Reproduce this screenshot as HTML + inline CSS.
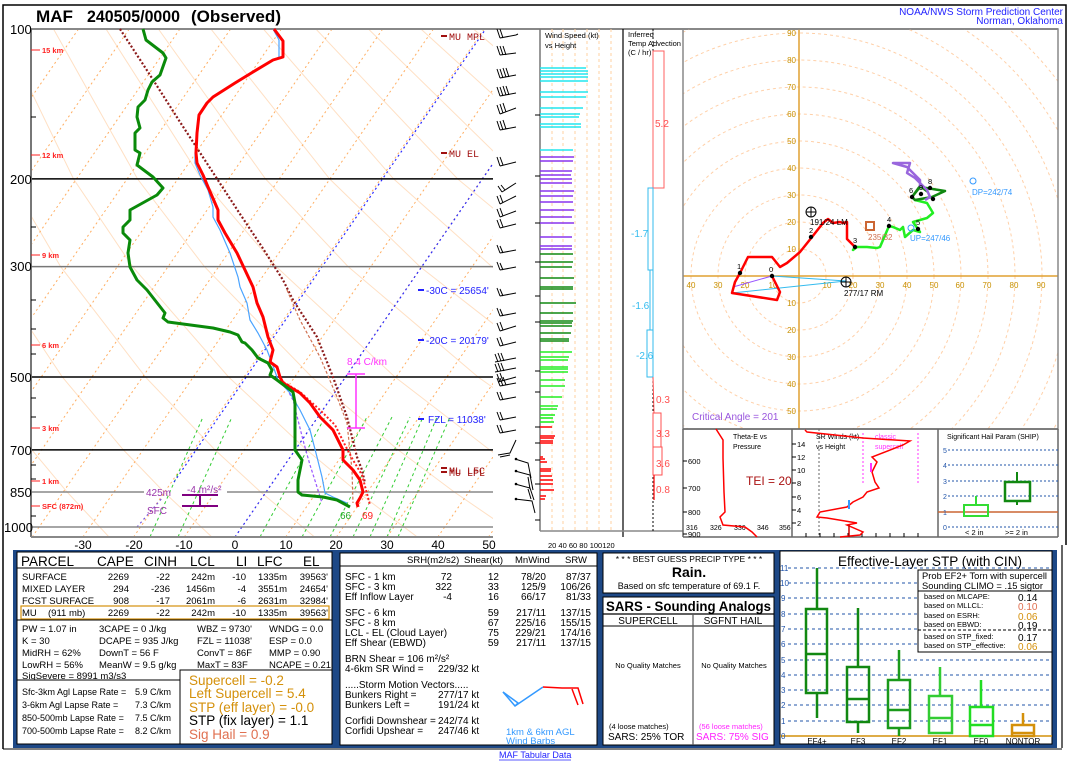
<!DOCTYPE html>
<html><head><meta charset="utf-8"><style>
html,body{margin:0;padding:0;background:#fff;}
svg{display:block;}
text{font-family:"Liberation Sans",sans-serif;}
.mono{font-family:"Liberation Mono",monospace;}
</style></head><body>
<svg width="1073" height="764" viewBox="0 0 1073 764" xmlns="http://www.w3.org/2000/svg">
<defs>
<clipPath id="skc"><rect x="31" y="29" width="462" height="508"/></clipPath>
<clipPath id="hoc"><rect x="683" y="29" width="375" height="400"/></clipPath>
</defs>
<rect width="1073" height="764" fill="#fff"/>
<!-- outer frame -->
<polyline points="3,749 3,5 1066,5 1066,545" fill="none" stroke="#000" stroke-width="1.5"/>
<!-- title -->
<text x="36" y="22" font-size="17" font-weight="bold" textLength="37" lengthAdjust="spacingAndGlyphs">MAF</text>
<text x="87" y="22" font-size="17" font-weight="bold" textLength="93" lengthAdjust="spacingAndGlyphs">240505/0000</text>
<text x="191" y="22" font-size="17" font-weight="bold" textLength="90" lengthAdjust="spacingAndGlyphs">(Observed)</text>
<text x="1063" y="15" font-size="10" fill="#2323ff" text-anchor="end">NOAA/NWS Storm Prediction Center</text>
<text x="1063" y="24" font-size="10" fill="#2323ff" text-anchor="end">Norman, Oklahoma</text>

<!-- ===== SKEW-T ===== -->
<g id="bg" clip-path="url(#skc)"></g>
<g clip-path="url(#skc)" stroke="#33cc33" stroke-width="1" stroke-dasharray="3,3" fill="none">
<line x1="150" y1="537" x2="203" y2="417"/>
<line x1="178" y1="537" x2="232" y2="417"/>
<line x1="260" y1="537" x2="325" y2="417"/>
<line x1="302" y1="537" x2="367" y2="417"/>
<line x1="330" y1="537" x2="392" y2="417"/>
<line x1="353" y1="537" x2="410" y2="417"/>
<line x1="370" y1="537" x2="423" y2="417"/>
<line x1="387" y1="537" x2="437" y2="417"/>
<line x1="398" y1="537" x2="450" y2="417"/>
</g>
<!-- blue isotherms -->
<g clip-path="url(#skc)" stroke="#2a2aff" stroke-width="1.2" stroke-dasharray="2,3" fill="none">
<line x1="174" y1="482" x2="485" y2="30"/>
<line x1="235" y1="537" x2="586" y2="29"/>
<line x1="137" y1="527" x2="163" y2="497" stroke="#7a55dd"/>
</g>
<!-- pressure lines -->
<g stroke-width="1.5">
<line x1="31" y1="178.9" x2="493" y2="178.9" stroke="#000"/>
<line x1="31" y1="266.6" x2="493" y2="266.6" stroke="#777"/>
<line x1="31" y1="377" x2="493" y2="377" stroke="#000"/>
<line x1="31" y1="449.9" x2="493" y2="449.9" stroke="#000"/>
<line x1="31" y1="492" x2="144" y2="492" stroke="#888"/>
<line x1="227" y1="492" x2="493" y2="492" stroke="#888"/>
<line x1="31" y1="527" x2="493" y2="527" stroke="#888"/>
</g>
<line x1="31" y1="29" x2="1058" y2="29" stroke="#888" stroke-width="2"/>
<line x1="31" y1="29" x2="31" y2="537" stroke="#777" stroke-width="2"/>
<line x1="31" y1="537" x2="493" y2="537" stroke="#888" stroke-width="2"/>
<!-- pressure labels -->
<g font-size="13" fill="#000">
<text x="10" y="34">100</text>
<text x="10" y="184">200</text>
<text x="10" y="271">300</text>
<text x="10" y="382">500</text>
<text x="10" y="455">700</text>
<text x="10" y="497">850</text>
<text x="4" y="532">1000</text>
</g>
<g stroke="#000" stroke-width="1">
<line x1="31" y1="117" x2="36" y2="117"/><line x1="31" y1="227" x2="36" y2="227"/>
<line x1="31" y1="300" x2="36" y2="300"/><line x1="31" y1="329" x2="36" y2="329"/>
<line x1="31" y1="354" x2="36" y2="354"/><line x1="31" y1="398" x2="36" y2="398"/>
<line x1="31" y1="417" x2="36" y2="417"/><line x1="31" y1="465" x2="36" y2="465"/>
<line x1="31" y1="479" x2="36" y2="479"/><line x1="31" y1="516" x2="36" y2="516"/>
</g>
<!-- height labels -->
<g fill="#ff2020" font-size="7.5" font-weight="bold">
<text x="42" y="53">15 km</text><text x="42" y="158">12 km</text><text x="42" y="258">9 km</text>
<text x="42" y="348">6 km</text><text x="42" y="431">3 km</text><text x="42" y="484">1 km</text>
<text x="42" y="509">SFC (872m)</text>
</g>
<g stroke="#ff2020" stroke-width="1">
<line x1="31" y1="50" x2="40" y2="50"/><line x1="31" y1="155" x2="40" y2="155"/><line x1="31" y1="255" x2="40" y2="255"/>
<line x1="31" y1="345" x2="40" y2="345"/><line x1="31" y1="428" x2="40" y2="428"/><line x1="31" y1="481" x2="40" y2="481"/>
<line x1="31" y1="506" x2="40" y2="506"/>
</g>
<!-- temp labels -->
<g font-size="12" text-anchor="middle">
<text x="83" y="549">-30</text><text x="134" y="549">-20</text><text x="184" y="549">-10</text>
<text x="235" y="549">0</text><text x="286" y="549">10</text><text x="336" y="549">20</text>
<text x="387" y="549">30</text><text x="438" y="549">40</text><text x="489" y="549">50</text>
</g>
<!-- parcel traces -->
<polyline points="120,29 150,75 180,122 210,168 240,214 262,247 283,280 293,300 317,337 333,377 347,417 357,457 362,470 365,483" fill="none" stroke="#8b1a1a" stroke-width="2.2" stroke-dasharray="2,2"/>
<polyline points="287,290 300,320 320,357 337,397 347,423 352,470 353,503" fill="none" stroke="#d07050" stroke-width="1.2" stroke-dasharray="3,2"/>
<polyline points="280,380 300,392 320,410 335,425 345,445 353,460 362,475 366,490 370,505" fill="none" stroke="#ff2020" stroke-width="2" stroke-dasharray="2,2"/>
<polyline points="282,380 293,400 303,440 310,465 318,490 322,503" fill="none" stroke="#9955ff" stroke-width="1.2" stroke-dasharray="3,2"/>
<!-- light blue -->
<polyline points="273,29 279,40 279,57 273,60 253,72 235,83 213,97 207,103 199,115 197,133 195,153 195,163 200,175 208,190 213,207 213,217 220,230 230,253 238,277 240,287 247,303 250,320 258,333 267,350 272,363 278,380 290,393 300,410 310,430 317,457 322,477 325,493 333,497 347,503" fill="none" stroke="#4aa3ff" stroke-width="1.2"/>
<!-- temperature -->
<polyline points="274,29 283,41 283,57 273,60 253,72 235,83 213,97 207,103 199,115 197,133 196,153 197,163 203,175 208,187 218,210 218,220 225,233 237,253 245,270 253,287 257,303 263,317 268,337 273,350 270,362 277,367 280,377 283,383 300,393 310,403 320,417 333,430 343,450 343,460 353,470 360,480 363,492 360,498 357,503 358,507" fill="none" stroke="#ff0000" stroke-width="3" stroke-linejoin="round"/>
<!-- dewpoint -->
<polyline points="143,29 146,40 163,53 166,58 160,75 152,82 148,90 145,100 138,107 137,117 140,128 135,133 135,150 140,153 137,165 153,177 163,188 157,195 130,210 130,220 123,227 123,233 130,240 128,253 130,267 137,280 147,290 165,313 163,318 168,322 213,328 230,332 238,335 242,342 245,343 252,350 258,358 268,363 272,370 270,375 277,380 293,392 295,403 295,450 302,460 298,480 298,492 302,495 323,497 337,500 350,507" fill="none" stroke="#0a8a0a" stroke-width="3" stroke-linejoin="round"/>
<!-- annotations -->
<g fill="#a01010" font-size="10">
<text x="449" y="40" class="mono">MU MPL</text>
<text x="449" y="157" class="mono">MU EL</text>
<text x="449" y="474" class="mono">ML LFC</text>
<text x="449" y="476" class="mono">MU LPL</text>
</g>
<g stroke="#a01010" stroke-width="2">
<line x1="441" y1="36" x2="447" y2="36"/><line x1="441" y1="153" x2="447" y2="153"/>
<line x1="441" y1="468" x2="447" y2="468"/><line x1="441" y1="472" x2="447" y2="472"/>
</g>
<g fill="#2323ff" font-size="10">
<text x="426" y="294">-30C = 25654'</text>
<text x="426" y="344">-20C = 20179'</text>
<text x="428" y="423">FZL = 11038'</text>
</g>
<g stroke="#2323ff" stroke-width="2">
<line x1="418" y1="290" x2="424" y2="290"/><line x1="418" y1="340" x2="424" y2="340"/><line x1="418" y1="419" x2="424" y2="419"/>
</g>
<text x="347" y="365" font-size="10" fill="#ff33ff">8.4 C/km</text>
<g stroke="#ff33ff" stroke-width="1.5" fill="none">
<line x1="347" y1="374" x2="365" y2="374"/><line x1="356" y1="374" x2="356" y2="428"/><line x1="347" y1="428" x2="365" y2="428"/>
</g>
<text x="146" y="496" font-size="10" fill="#9933aa">425m</text>
<text x="187" y="493" font-size="10" fill="#9933aa">-4 m²/s²</text>
<text x="147" y="514" font-size="10" fill="#9933aa">SFC</text>
<g stroke="#800080" stroke-width="2">
<line x1="182" y1="495" x2="218" y2="495"/><line x1="182" y1="506" x2="218" y2="506"/><line x1="200" y1="495" x2="200" y2="506"/>
</g>
<text x="340" y="519" font-size="10" fill="#22aa22">66</text>
<text x="362" y="519" font-size="10" fill="#ff2020">69</text>

<!-- wind barbs -->
<g stroke="#000" stroke-width="1" fill="none">
<path d="M516,35 L500,38 M500,38 l-3,-9 M503,38 l-3,-9 M516,35 l2,-1"/>
<path d="M516,53 L500,55 M500,55 l-3,-9 M503,55 l-3,-9 M506,55 l-3,-9"/>
<path d="M516,75 L500,78 M500,78 l-3,-9 M503,78 l-3,-9 M506,77 l-3,-9 M509,77 l-3,-9"/>
<path d="M516,93 L500,96 M500,96 l-3,-9 M503,96 l-3,-9 M506,95 l-3,-9 M509,95 l-3,-9"/>
<path d="M516,108 L500,114 M500,114 l-3,-9 M503,113 l-3,-9 M506,112 l-3,-9"/>
<path d="M516,127 L500,130 M500,130 l-3,-9 M503,130 l-3,-9 M506,129 l-3,-9"/>
<path d="M516,162 L500,166 M500,166 l-3,-9 M503,165 l-3,-8"/>
<path d="M516,183 L502,192 M502,192 l-4,-6 M505,190 l-4,-5"/>
<path d="M516,196 L500,204 M500,204 l-3,-8 M503,203 l-3,-8"/>
<path d="M516,211 L500,217 M500,217 l-3,-8 M503,216 l-3,-8"/>
<path d="M516,224 L500,228 M500,228 l-3,-8 M503,227 l-3,-8"/>
<path d="M516,250 L500,253 M500,253 l-3,-8 M503,253 l-3,-7"/>
<path d="M516,267 L500,270 M500,270 l-3,-8 M503,270 l-3,-7"/>
<path d="M516,293 L500,296 M500,296 l-3,-8 M503,296 l-3,-7"/>
<path d="M516,313 L500,316 M500,316 l-3,-8 M503,316 l-3,-7"/>
<path d="M516,326 L500,331 M500,331 l-3,-8 M503,330 l-3,-8"/>
<path d="M516,342 L500,346 M500,346 l-3,-8 M503,345 l-3,-8"/>
<path d="M516,358 L495,362 M498,362 l-3,-8 M501,361 l-3,-8 M504,361 l-3,-8"/>
<path d="M516,368 L495,372 M498,372 l-3,-8 M501,371 l-3,-8 M504,371 l-3,-8"/>
<path d="M516,377 L498,382 M500,382 l-3,-8 M503,381 l-3,-8"/>
<path d="M516,383 L500,386 M500,386 l-3,-8 M503,386 l-3,-8 M506,385 l-3,-8"/>
<path d="M516,397 L500,400 M500,400 l-3,-8 M503,400 l-3,-8"/>
<path d="M516,417 L500,420 M500,420 l-3,-8 M503,420 l-3,-8"/>
<path d="M516,430 L500,433 M500,433 l-3,-8 M503,433 l-3,-8"/>
<path d="M498,455 L510,453 L516,440 M500,457 L510,455"/>
<path d="M515,459 L528,463 L531,478"/>
<path d="M515,471 L530,475 L533,490 M528,477 l2,12"/>
<path d="M515,484 L530,488 L534,500 M528,489 l3,10"/>
<path d="M515,499 L532,501 L535,513"/>
</g>
<g fill="#000"><circle cx="516" cy="459" r="1.3"/><circle cx="516" cy="471" r="1.3"/><circle cx="516" cy="484" r="1.3"/><circle cx="516" cy="499" r="1.3"/></g>

<!-- ===== WIND SPEED PANEL ===== -->
<g stroke="#ffd0a0" stroke-width="1" stroke-dasharray="3,3">
<line x1="552" y1="29" x2="552" y2="531"/><line x1="563" y1="29" x2="563" y2="531"/><line x1="575" y1="29" x2="575" y2="531"/>
<line x1="587" y1="29" x2="587" y2="531"/><line x1="599" y1="29" x2="599" y2="531"/><line x1="611" y1="29" x2="611" y2="531"/>
</g>
<line x1="540" y1="29" x2="540" y2="531" stroke="#777" stroke-width="1.5"/>
<line x1="623" y1="29" x2="623" y2="537" stroke="#000" stroke-width="1.2"/>
<line x1="540" y1="531" x2="683" y2="531" stroke="#888" stroke-width="1.5"/>
<g stroke="#000" stroke-width="1">
<line x1="535" y1="115" x2="540" y2="115"/><line x1="535" y1="176" x2="540" y2="176"/><line x1="535" y1="223" x2="540" y2="223"/>
<line x1="535" y1="262" x2="540" y2="262"/><line x1="535" y1="296" x2="540" y2="296"/><line x1="535" y1="322" x2="540" y2="322"/>
<line x1="535" y1="371" x2="540" y2="371"/><line x1="535" y1="392" x2="540" y2="392"/><line x1="535" y1="427" x2="540" y2="427"/>
<line x1="535" y1="443" x2="540" y2="443"/><line x1="535" y1="460" x2="540" y2="460"/><line x1="535" y1="484" x2="540" y2="484"/>
<line x1="535" y1="520" x2="540" y2="520"/>
</g>
<text x="545" y="38" font-size="7.5">Wind Speed (kt)</text>
<text x="545" y="48" font-size="7.5">vs Height</text>
<text x="548" y="548" font-size="7.5">20 40 60 80 100120</text>
<g stroke-width="1.6">
<g stroke="#22e5ee">
<line x1="540" y1="68" x2="586" y2="68"/><line x1="540" y1="71" x2="588" y2="71"/><line x1="540" y1="74" x2="588" y2="74"/>
<line x1="540" y1="77" x2="588" y2="77"/><line x1="540" y1="81" x2="588" y2="81"/><line x1="540" y1="92" x2="588" y2="92"/>
<line x1="540" y1="97" x2="586" y2="97"/><line x1="540" y1="108" x2="583" y2="108"/><line x1="540" y1="114" x2="580" y2="114"/>
<line x1="540" y1="117" x2="579" y2="117"/><line x1="540" y1="124" x2="581" y2="124"/><line x1="540" y1="127" x2="581" y2="127"/>
<line x1="540" y1="150" x2="573" y2="150"/>
</g>
<g stroke="#8833ee">
<line x1="540" y1="157" x2="574" y2="157"/><line x1="540" y1="161" x2="573" y2="161"/><line x1="540" y1="171" x2="572" y2="171"/>
<line x1="540" y1="175" x2="571" y2="175"/><line x1="540" y1="179" x2="572" y2="179"/><line x1="540" y1="183" x2="572" y2="183"/>
<line x1="540" y1="191" x2="574" y2="191"/><line x1="540" y1="196" x2="573" y2="196"/><line x1="540" y1="202" x2="573" y2="202"/>
<line x1="540" y1="210" x2="574" y2="210"/><line x1="540" y1="217" x2="572" y2="217"/><line x1="540" y1="223" x2="574" y2="223"/>
<line x1="540" y1="237" x2="572" y2="237"/><line x1="540" y1="246" x2="572" y2="246"/><line x1="540" y1="249" x2="572" y2="249"/>
</g>
<g stroke="#118811">
<line x1="540" y1="254" x2="573" y2="254"/><line x1="540" y1="262" x2="573" y2="262"/><line x1="540" y1="267" x2="572" y2="267"/>
<line x1="540" y1="278" x2="574" y2="278"/><line x1="540" y1="287" x2="573" y2="287"/><line x1="540" y1="289" x2="573" y2="289"/>
<line x1="540" y1="303" x2="576" y2="303"/><line x1="540" y1="313" x2="573" y2="313"/><line x1="540" y1="321" x2="573" y2="321"/>
<line x1="540" y1="323" x2="572" y2="323"/><line x1="540" y1="326" x2="572" y2="326"/><line x1="540" y1="333" x2="571" y2="333"/>
<line x1="540" y1="339" x2="569" y2="339"/><line x1="540" y1="341" x2="569" y2="341"/>
</g>
<g stroke="#22ee22">
<line x1="540" y1="352" x2="572" y2="352"/><line x1="540" y1="357" x2="569" y2="357"/><line x1="540" y1="360" x2="568" y2="360"/>
<line x1="540" y1="367" x2="568" y2="367"/><line x1="540" y1="369" x2="568" y2="369"/><line x1="540" y1="372" x2="568" y2="372"/>
<line x1="540" y1="380" x2="565" y2="380"/><line x1="540" y1="386" x2="565" y2="386"/><line x1="540" y1="397" x2="562" y2="397"/>
<line x1="540" y1="406" x2="558" y2="406"/><line x1="540" y1="409" x2="557" y2="409"/><line x1="540" y1="415" x2="555" y2="415"/>
<line x1="540" y1="418" x2="553" y2="418"/><line x1="540" y1="422" x2="554" y2="422"/>
</g>
<g stroke="#ff1010">
<line x1="540" y1="427" x2="552" y2="427"/><line x1="540" y1="436" x2="555" y2="436"/><line x1="540" y1="438" x2="554" y2="438"/>
<line x1="540" y1="441" x2="553" y2="441"/><line x1="540" y1="443" x2="553" y2="443"/><line x1="540" y1="457" x2="543" y2="457"/>
<line x1="540" y1="459" x2="545" y2="459"/><line x1="540" y1="462" x2="547" y2="462"/><line x1="540" y1="469" x2="551" y2="469"/>
<line x1="540" y1="471" x2="551" y2="471"/><line x1="540" y1="476" x2="552" y2="476"/><line x1="540" y1="480" x2="553" y2="480"/>
<line x1="540" y1="484" x2="553" y2="484"/><line x1="540" y1="490" x2="554" y2="490"/><line x1="540" y1="496" x2="546" y2="496"/>
<line x1="540" y1="499" x2="545" y2="499"/>
</g>
</g>

<!-- ===== TEMP ADVECTION ===== -->
<text x="628" y="37" font-size="7.5">Inferred</text>
<text x="628" y="46" font-size="7.5">Temp Advection</text>
<text x="628" y="55" font-size="7.5">(C / hr)</text>
<line x1="653" y1="29" x2="653" y2="531" stroke="#000" stroke-width="1" stroke-dasharray="2,2"/>
<rect x="653" y="51" width="11" height="137" fill="#fff" stroke="#ff6060" stroke-width="1"/>
<text x="655" y="127" font-size="10" fill="#ff5050">5.2</text>
<rect x="648" y="188" width="5" height="82" fill="#fff" stroke="#33bbee" stroke-width="1"/>
<text x="631" y="237" font-size="10" fill="#33bbee">-1.7</text>
<rect x="650" y="270" width="3" height="60" fill="#fff" stroke="#33bbee" stroke-width="1"/>
<text x="632" y="309" font-size="10" fill="#33bbee">-1.6</text>
<rect x="647" y="330" width="6" height="47" fill="#fff" stroke="#33bbee" stroke-width="1"/>
<text x="636" y="359" font-size="10" fill="#33bbee">-2.6</text>
<line x1="653" y1="377" x2="654" y2="413" stroke="#ff5050"/>
<text x="656" y="403" font-size="10" fill="#ff5050">0.3</text>
<rect x="653" y="413" width="8" height="34" fill="#fff" stroke="#ff5050" stroke-width="1"/>
<text x="656" y="437" font-size="10" fill="#ff5050">3.3</text>
<rect x="653" y="447" width="9" height="28" fill="#fff" stroke="#ff5050" stroke-width="1"/>
<text x="656" y="467" font-size="10" fill="#ff5050">3.6</text>
<line x1="654" y1="475" x2="654" y2="500" stroke="#ff3030" stroke-width="1.5"/>
<text x="656" y="493" font-size="10" fill="#ff5050">0.8</text>

<!-- ===== HODOGRAPH ===== -->
<g clip-path="url(#hoc)" fill="none" stroke="#ffd0a8" stroke-width="1" stroke-dasharray="3,3">
<circle cx="799" cy="276" r="27"/><circle cx="799" cy="276" r="54"/><circle cx="799" cy="276" r="81"/>
<circle cx="799" cy="276" r="108"/><circle cx="799" cy="276" r="135"/><circle cx="799" cy="276" r="162"/>
<circle cx="799" cy="276" r="189"/><circle cx="799" cy="276" r="216"/><circle cx="799" cy="276" r="243"/>
<circle cx="799" cy="276" r="270"/><circle cx="799" cy="276" r="297"/><circle cx="799" cy="276" r="324"/>
</g>
<line x1="799" y1="29" x2="799" y2="429" stroke="#e0a030" stroke-width="1.5"/>
<line x1="683" y1="276" x2="1058" y2="276" stroke="#e0a030" stroke-width="1.5"/>
<g font-size="8" fill="#c89000" text-anchor="end">
<text x="796" y="36">90</text><text x="796" y="63">80</text><text x="796" y="90">70</text><text x="796" y="117">60</text>
<text x="796" y="144">50</text><text x="796" y="171">40</text><text x="796" y="198">30</text><text x="796" y="225">20</text>
<text x="796" y="252">10</text><text x="796" y="306">10</text><text x="796" y="333">20</text><text x="796" y="360">30</text>
<text x="796" y="387">40</text><text x="796" y="414">50</text>
</g>
<g font-size="8" fill="#c89000" text-anchor="middle">
<text x="691" y="288">40</text><text x="718" y="288">30</text><text x="745" y="288">20</text><text x="773" y="288">10</text>
<text x="827" y="288">10</text><text x="853" y="288">20</text><text x="880" y="288">30</text><text x="907" y="288">40</text>
<text x="934" y="288">50</text><text x="960" y="288">60</text><text x="987" y="288">70</text><text x="1014" y="288">80</text>
<text x="1041" y="288">90</text>
</g>
<rect x="683" y="29" width="375" height="400" fill="none" stroke="#888" stroke-width="1.5"/>
<polyline points="772,276 846,281 732,293" fill="none" stroke="#33bbee" stroke-width="1"/>
<line x1="772" y1="276" x2="733" y2="287" stroke="#9955ff" stroke-width="1"/>
<polyline points="772,276 780,292 777,300 732,293 735,282 740,273 743,267 748,257 772,257 780,267 787,263 800,252 812,237 823,223 828,219 833,223 840,222 843,223 847,222 847,239 855,247" fill="none" stroke="#ff0000" stroke-width="2.5" stroke-linejoin="round"/>
<polyline points="855,247 853,250 857,247 867,247 877,248 880,247 889,226 893,227 900,230 903,227 905,237 913,230 920,232 913,222 927,218 933,213 927,203 915,200 912,197" fill="none" stroke="#22ee22" stroke-width="2.5" stroke-linejoin="round"/>
<polyline points="912,197 920,187 945,191 932,197 915,200 912,197 920,186 928,192" fill="none" stroke="#118811" stroke-width="2.5" stroke-linejoin="round"/>
<polyline points="920,187 920,180 913,173 907,167 893,163 910,163 907,173 915,178 927,190 930,197 925,200" fill="none" stroke="#9966dd" stroke-width="2.5" stroke-linejoin="round"/>
<g fill="#000">
<circle cx="772" cy="276" r="2.2"/><circle cx="740" cy="273" r="2.2"/><circle cx="811" cy="237" r="2.2"/>
<circle cx="855" cy="247" r="2.2"/><circle cx="889" cy="226" r="2.2"/><circle cx="918" cy="229" r="2.2"/>
<circle cx="912" cy="197" r="2.2"/><circle cx="930" cy="188" r="2.2"/><circle cx="933" cy="199" r="2.2"/><circle cx="921" cy="194" r="2.2"/>
</g>
<g font-size="7.5" fill="#000">
<text x="769" y="272">0</text><text x="737" y="269">1</text><text x="809" y="233">2</text><text x="853" y="243">3</text>
<text x="887" y="222">4</text><text x="916" y="225">5</text><text x="909" y="193">6</text><text x="928" y="184">8</text><text x="919" y="190">9</text>
</g>
<g fill="none" stroke="#000" stroke-width="1">
<circle cx="811" cy="212" r="5"/><line x1="806" y1="212" x2="816" y2="212"/><line x1="811" y1="207" x2="811" y2="217"/>
<circle cx="846" cy="282" r="5"/><line x1="841" y1="282" x2="851" y2="282"/><line x1="846" y1="277" x2="846" y2="287"/>
</g>
<text x="810" y="225" font-size="8" fill="#000">191/24 LM</text>
<text x="844" y="296" font-size="8" fill="#000">277/17 RM</text>
<rect x="866" y="222" width="8" height="8" fill="none" stroke="#cc6633" stroke-width="2"/>
<text x="868" y="240" font-size="8" fill="#d07050">235/32</text>
<circle cx="973" cy="181" r="3" fill="none" stroke="#3399ff"/>
<text x="972" y="195" font-size="8" fill="#3399ff">DP=242/74</text>
<circle cx="911" cy="228" r="3" fill="none" stroke="#3399ff"/>
<text x="910" y="241" font-size="8" fill="#3399ff">UP=247/46</text>
<text x="692" y="420" font-size="10" fill="#9955dd">Critical Angle = 201</text>

<!-- ===== LOWER RIGHT PANELS ===== -->
<line x1="683" y1="429" x2="1058" y2="429" stroke="#666" stroke-width="1.5"/>
<line x1="683" y1="429" x2="683" y2="537" stroke="#666" stroke-width="1.5"/>
<line x1="792" y1="429" x2="792" y2="537" stroke="#666" stroke-width="1.5"/>
<line x1="938" y1="429" x2="938" y2="537" stroke="#666" stroke-width="1.5"/>
<line x1="1058" y1="429" x2="1058" y2="537" stroke="#666" stroke-width="1.5"/>
<line x1="683" y1="537" x2="1058" y2="537" stroke="#666" stroke-width="1.5"/>
<!-- theta-e -->
<text x="733" y="439" font-size="7">Theta-E vs</text>
<text x="733" y="449" font-size="7">Pressure</text>
<g font-size="7.5"><text x="688" y="464">600</text><text x="688" y="491">700</text><text x="688" y="515">800</text><text x="688" y="537">900</text></g>
<g stroke="#000"><line x1="683" y1="461" x2="687" y2="461"/><line x1="683" y1="488" x2="687" y2="488"/><line x1="683" y1="512" x2="687" y2="512"/><line x1="683" y1="534" x2="687" y2="534"/></g>
<g font-size="7" fill="#000"><text x="686" y="530">316</text><text x="710" y="530">326</text><text x="734" y="530">336</text><text x="757" y="530">346</text><text x="779" y="530">356</text></g>
<polyline points="716,429 723,440 723,458 724,492 725,512 720,517 723,525 745,527 752,532 757,537" fill="none" stroke="#ff0000" stroke-width="1.5"/>
<text x="746" y="485" font-size="12" fill="#aa1111">TEI = 20</text>
<!-- SR winds -->
<text x="816" y="439" font-size="7">SR Winds (kt)</text>
<text x="816" y="449" font-size="7">vs Height</text>
<text x="875" y="439" font-size="7" fill="#ff33ff">classic</text>
<text x="875" y="449" font-size="7" fill="#ff33ff">supercell</text>
<g font-size="7.5"><text x="797" y="447">14</text><text x="797" y="460">12</text><text x="797" y="473">10</text><text x="797" y="486">8</text>
<text x="797" y="500">6</text><text x="797" y="513">4</text><text x="797" y="526">2</text></g>
<g stroke="#000"><line x1="792" y1="444" x2="796" y2="444"/><line x1="792" y1="457" x2="796" y2="457"/><line x1="792" y1="470" x2="796" y2="470"/>
<line x1="792" y1="483" x2="796" y2="483"/><line x1="792" y1="497" x2="796" y2="497"/><line x1="792" y1="510" x2="796" y2="510"/><line x1="792" y1="523" x2="796" y2="523"/>
<line x1="806" y1="533" x2="806" y2="537"/><line x1="820" y1="533" x2="820" y2="537"/><line x1="834" y1="533" x2="834" y2="537"/><line x1="848" y1="533" x2="848" y2="537"/>
<line x1="862" y1="533" x2="862" y2="537"/><line x1="876" y1="533" x2="876" y2="537"/><line x1="890" y1="533" x2="890" y2="537"/><line x1="904" y1="533" x2="904" y2="537"/><line x1="918" y1="533" x2="918" y2="537"/></g>
<line x1="819" y1="429" x2="819" y2="537" stroke="#666" stroke-dasharray="2,2"/>
<line x1="863" y1="433" x2="863" y2="483" stroke="#ff55ff" stroke-dasharray="2,2" stroke-width="1.2"/>
<line x1="918" y1="433" x2="918" y2="483" stroke="#ff55ff" stroke-dasharray="2,2" stroke-width="1.2"/>
<polyline points="805,430 807,432 863,438 910,441 903,445 872,457 877,462 872,472 875,482 879,488 867,492 863,497 853,502 847,507 820,512 817,517 827,518 857,523 847,525 863,532 860,535 840,537" fill="none" stroke="#ff0000" stroke-width="1.5"/>
<line x1="849" y1="500" x2="849" y2="509" stroke="#3399ff" stroke-width="2"/>
<line x1="871" y1="463" x2="871" y2="472" stroke="#ff33ff" stroke-width="2"/>
<line x1="849" y1="525" x2="849" y2="537" stroke="#cc0000" stroke-width="1.5"/>
<!-- SHIP -->
<text x="947" y="439" font-size="7">Significant Hail Param (SHIP)</text>
<g stroke="#2255aa" stroke-dasharray="2,2" stroke-width="1">
<line x1="948" y1="450" x2="1058" y2="450"/><line x1="948" y1="465" x2="1058" y2="465"/><line x1="948" y1="481" x2="1058" y2="481"/>
<line x1="948" y1="496" x2="1058" y2="496"/><line x1="948" y1="527" x2="1058" y2="527"/>
</g>
<line x1="938" y1="512" x2="1058" y2="512" stroke="#cc6633" stroke-width="1.5"/>
<g font-size="7" fill="#2255aa"><text x="943" y="453">5</text><text x="943" y="468">4</text><text x="943" y="484">3</text><text x="943" y="499">2</text><text x="943" y="515">1</text><text x="943" y="530">0</text></g>
<line x1="976" y1="496" x2="976" y2="505" stroke="#33dd33" stroke-width="2"/>
<rect x="964" y="505" width="24" height="11" fill="none" stroke="#33dd33" stroke-width="2"/>
<line x1="1017" y1="472" x2="1017" y2="482" stroke="#118811" stroke-width="2"/>
<line x1="1017" y1="501" x2="1017" y2="505" stroke="#118811" stroke-width="2"/>
<rect x="1005" y="482" width="25" height="19" fill="none" stroke="#118811" stroke-width="2.5"/>
<text x="965" y="535" font-size="7.5">&lt; 2 in</text>
<text x="1005" y="535" font-size="7.5">&gt;= 2 in</text>

<!-- ===== BOTTOM SECTION ===== -->
<rect x="13" y="550" width="1044" height="198" fill="#1d4886"/>
<line x1="1062" y1="545" x2="1062" y2="748" stroke="#000" stroke-width="1.2"/>
<line x1="3" y1="749" x2="1062" y2="749" stroke="#000" stroke-width="1"/>
<!-- parcel table -->
<rect x="17" y="552" width="315" height="68" fill="#fff" stroke="#000" stroke-width="1"/>
<g font-size="13.5">
<text x="21" y="566">PARCEL</text><text x="97" y="566">CAPE</text><text x="144" y="566">CINH</text>
<text x="190" y="566">LCL</text><text x="236" y="566">LI</text><text x="257" y="566">LFC</text><text x="303" y="566">EL</text>
</g>
<line x1="17" y1="568" x2="332" y2="568" stroke="#000"/>
<g font-size="9.5">
<text x="22" y="580">SURFACE</text><text x="22" y="592">MIXED LAYER</text><text x="22" y="604">FCST SURFACE</text>
<text x="22" y="616">MU</text><text x="48" y="616">(911 mb)</text>
</g>
<g font-size="9.5" text-anchor="end">
<text x="129" y="580">2269</text><text x="170" y="580">-22</text><text x="215" y="580">242m</text><text x="246" y="580">-10</text><text x="287" y="580">1335m</text><text x="328" y="580">39563'</text>
<text x="129" y="592">294</text><text x="170" y="592">-236</text><text x="215" y="592">1456m</text><text x="246" y="592">-4</text><text x="287" y="592">3551m</text><text x="328" y="592">24654'</text>
<text x="129" y="604">908</text><text x="170" y="604">-17</text><text x="215" y="604">2061m</text><text x="246" y="604">-6</text><text x="287" y="604">2631m</text><text x="328" y="604">32984'</text>
<text x="129" y="616">2269</text><text x="170" y="616">-22</text><text x="215" y="616">242m</text><text x="246" y="616">-10</text><text x="287" y="616">1335m</text><text x="328" y="616">39563'</text>
</g>
<rect x="21" y="606" width="308" height="13" fill="none" stroke="#d4900a" stroke-width="1.2"/>
<!-- indices -->
<path d="M17,620 H332 V670 H180 V680 H17 Z" fill="#fff" stroke="#000" stroke-width="1"/>
<g font-size="9.5">
<text x="22" y="632">PW = 1.07 in</text><text x="22" y="644">K = 30</text><text x="22" y="656">MidRH = 62%</text><text x="22" y="668">LowRH = 56%</text><text x="22" y="679">SigSevere = 8991 m3/s3</text>
<text x="99" y="632">3CAPE = 0 J/kg</text><text x="99" y="644">DCAPE = 935 J/kg</text><text x="99" y="656">DownT = 56 F</text><text x="99" y="668">MeanW = 9.5 g/kg</text>
<text x="197" y="632">WBZ = 9730'</text><text x="197" y="644">FZL = 11038'</text><text x="197" y="656">ConvT = 86F</text><text x="197" y="668">MaxT = 83F</text>
<text x="269" y="632">WNDG = 0.0</text><text x="269" y="644">ESP = 0.0</text><text x="269" y="656">MMP = 0.90</text><text x="269" y="668">NCAPE = 0.21</text>
</g>
<!-- lapse rates -->
<rect x="17" y="680" width="163" height="64" fill="#fff" stroke="#000" stroke-width="1"/>
<g font-size="9">
<text x="22" y="695">Sfc-3km Agl Lapse Rate =</text><text x="135" y="695">5.9 C/km</text>
<text x="22" y="708">3-6km Agl Lapse Rate =</text><text x="135" y="708">7.3 C/km</text>
<text x="22" y="721">850-500mb Lapse Rate =</text><text x="135" y="721">7.5 C/km</text>
<text x="22" y="734">700-500mb Lapse Rate =</text><text x="135" y="734">8.2 C/km</text>
</g>
<!-- composite -->
<rect x="180" y="670" width="152" height="74" fill="#fff" stroke="#000" stroke-width="1"/>
<g font-size="13.5">
<text x="189" y="685" fill="#d4900a">Supercell = -0.2</text>
<text x="189" y="698" fill="#d4900a">Left Supercell = 5.4</text>
<text x="189" y="712" fill="#d4900a">STP (eff layer) = -0.0</text>
<text x="189" y="725" fill="#000">STP (fix layer) = 1.1</text>
<text x="189" y="739" fill="#e07050">Sig Hail = 0.9</text>
</g>
<!-- SRH panel -->
<rect x="340" y="553" width="257" height="192" fill="#fff" stroke="#000" stroke-width="1"/>
<g font-size="9.5">
<text x="407" y="563">SRH(m2/s2)</text><text x="464" y="563">Shear(kt)</text><text x="515" y="563">MnWind</text><text x="565" y="563">SRW</text>
</g>
<line x1="340" y1="566" x2="597" y2="566" stroke="#000"/>
<g font-size="10">
<text x="345" y="580">SFC - 1 km</text><text x="345" y="590">SFC - 3 km</text><text x="345" y="600">Eff Inflow Layer</text>
<text x="345" y="616">SFC - 6 km</text><text x="345" y="626">SFC - 8 km</text><text x="345" y="636">LCL - EL (Cloud Layer)</text><text x="345" y="646">Eff Shear (EBWD)</text>
<text x="345" y="662">BRN Shear =  106 m²/s²</text>
<text x="345" y="672">4-6km SR Wind =</text><text x="438" y="672">229/32 kt</text>
<text x="345" y="688">.....Storm Motion Vectors.....</text>
<text x="345" y="698">Bunkers Right =</text><text x="438" y="698">277/17 kt</text>
<text x="345" y="708">Bunkers Left =</text><text x="438" y="708">191/24 kt</text>
<text x="345" y="724">Corfidi Downshear =</text><text x="438" y="724">242/74 kt</text>
<text x="345" y="734">Corfidi Upshear =</text><text x="438" y="734">247/46 kt</text>
</g>
<g font-size="10" text-anchor="end">
<text x="452" y="580">72</text><text x="499" y="580">12</text><text x="546" y="580">78/20</text><text x="591" y="580">87/37</text>
<text x="452" y="590">322</text><text x="499" y="590">33</text><text x="546" y="590">125/9</text><text x="591" y="590">106/26</text>
<text x="452" y="600">-4</text><text x="499" y="600">16</text><text x="546" y="600">66/17</text><text x="591" y="600">81/33</text>
<text x="499" y="616">59</text><text x="546" y="616">217/11</text><text x="591" y="616">137/15</text>
<text x="499" y="626">67</text><text x="546" y="626">225/16</text><text x="591" y="626">155/15</text>
<text x="499" y="636">75</text><text x="546" y="636">229/21</text><text x="591" y="636">174/16</text>
<text x="499" y="646">59</text><text x="546" y="646">217/11</text><text x="591" y="646">137/15</text>
</g>
<polyline points="503,692 515,706 543,687" fill="none" stroke="#3399ff" stroke-width="1.5"/>
<polyline points="503,692 518,703 515,706" fill="none" stroke="#3399ff" stroke-width="1.5"/>
<polyline points="543,687 562,688 578,688 583,704" fill="none" stroke="#ff0000" stroke-width="1.5"/>
<line x1="572" y1="689" x2="578" y2="705" stroke="#ff0000" stroke-width="1.5"/>
<text x="506" y="735" font-size="9.5" fill="#3399ff">1km &amp; 6km AGL</text>
<text x="506" y="744" font-size="9.5" fill="#3399ff">Wind Barbs</text>
<text x="499" y="758" font-size="9" fill="#2222ff">MAF Tabular Data</text>
<line x1="499" y1="760" x2="571" y2="760" stroke="#2222ff" stroke-width="0.8"/>
<!-- precip type -->
<rect x="603" y="553" width="171" height="40" fill="#fff" stroke="#000" stroke-width="1"/>
<text x="689" y="562" font-size="8.5" text-anchor="middle">* * * BEST GUESS PRECIP TYPE * * *</text>
<text x="689" y="577" font-size="14" font-weight="bold" text-anchor="middle">Rain.</text>
<text x="689" y="589" font-size="9" text-anchor="middle">Based on sfc temperature of 69.1 F.</text>
<!-- SARS -->
<rect x="603" y="597" width="171" height="148" fill="#fff" stroke="#000" stroke-width="1"/>
<text x="606" y="611" font-size="13.5" font-weight="bold" textLength="165" lengthAdjust="spacingAndGlyphs">SARS - Sounding Analogs</text>
<line x1="603" y1="614" x2="774" y2="614" stroke="#000" stroke-width="1.2"/>
<text x="648" y="624" font-size="10" text-anchor="middle">SUPERCELL</text>
<text x="733" y="624" font-size="10" text-anchor="middle">SGFNT HAIL</text>
<line x1="603" y1="626" x2="774" y2="626" stroke="#000" stroke-width="1"/>
<line x1="693" y1="614" x2="693" y2="745" stroke="#555" stroke-width="1.2"/>
<text x="648" y="668" font-size="7.5" text-anchor="middle">No Quality Matches</text>
<text x="734" y="668" font-size="7.5" text-anchor="middle">No Quality Matches</text>
<text x="609" y="729" font-size="7.5">(4 loose matches)</text>
<text x="608" y="740" font-size="10">SARS:  25% TOR</text>
<text x="699" y="729" font-size="7.5" fill="#ff22ff">(56 loose matches)</text>
<text x="696" y="740" font-size="10" fill="#ff22ff">SARS:  75% SIG</text>
<!-- STP -->
<rect x="780" y="551" width="272" height="193" fill="#fff" stroke="#000" stroke-width="1"/>
<text x="838" y="566" font-size="14" textLength="184" lengthAdjust="spacingAndGlyphs">Effective-Layer STP (with CIN)</text>
<g stroke="#2255aa" stroke-dasharray="3,3" stroke-width="1">
<line x1="788" y1="568" x2="1050" y2="568"/><line x1="788" y1="583" x2="1050" y2="583"/><line x1="788" y1="598" x2="1050" y2="598"/>
<line x1="788" y1="614" x2="1050" y2="614"/><line x1="788" y1="629" x2="1050" y2="629"/><line x1="788" y1="644" x2="1050" y2="644"/>
<line x1="788" y1="660" x2="1050" y2="660"/><line x1="788" y1="675" x2="1050" y2="675"/><line x1="788" y1="690" x2="1050" y2="690"/>
<line x1="788" y1="705" x2="1050" y2="705"/><line x1="788" y1="721" x2="1050" y2="721"/>
</g>
<line x1="780" y1="736" x2="1052" y2="736" stroke="#d4900a" stroke-width="1.5"/>
<g font-size="8" fill="#2255aa">
<text x="780" y="571">11</text><text x="780" y="586">10</text><text x="781" y="601">9</text><text x="781" y="617">8</text>
<text x="781" y="632">7</text><text x="781" y="647">6</text><text x="781" y="663">5</text><text x="781" y="678">4</text>
<text x="781" y="693">3</text><text x="781" y="708">2</text><text x="781" y="724">1</text><text x="781" y="739">0</text>
</g>
<g fill="none" stroke-width="2.5">
<g stroke="#118811"><line x1="817" y1="568" x2="817" y2="609"/><line x1="817" y1="693" x2="817" y2="718"/><rect x="806" y="609" width="21" height="84"/><line x1="806" y1="654" x2="827" y2="654"/></g>
<g stroke="#118811"><line x1="858" y1="608" x2="858" y2="667"/><line x1="858" y1="722" x2="858" y2="733"/><rect x="847" y="667" width="22" height="55"/><line x1="847" y1="699" x2="869" y2="699"/></g>
<g stroke="#1a9a1a"><line x1="899" y1="650" x2="899" y2="680"/><line x1="899" y1="728" x2="899" y2="736"/><rect x="888" y="680" width="22" height="48"/><line x1="888" y1="710" x2="910" y2="710"/></g>
<g stroke="#33cc33"><line x1="940" y1="667" x2="940" y2="696"/><rect x="929" y="696" width="23" height="37"/><line x1="929" y1="718" x2="952" y2="718"/></g>
<g stroke="#22dd22"><line x1="981" y1="680" x2="981" y2="707"/><rect x="970" y="707" width="23" height="29"/><line x1="970" y1="725" x2="993" y2="725"/></g>
<g stroke="#d4900a"><line x1="1023" y1="713" x2="1023" y2="725"/><rect x="1012" y="725" width="22" height="11"/><line x1="1012" y1="733" x2="1034" y2="733"/></g>
</g>
<g font-size="8" text-anchor="middle">
<text x="817" y="744">EF4+</text><text x="858" y="744">EF3</text><text x="899" y="744">EF2</text>
<text x="940" y="744">EF1</text><text x="981" y="744">EF0</text><text x="1023" y="744">NONTOR</text>
</g>
<rect x="918" y="570" width="134" height="82" fill="#fff" stroke="#000" stroke-width="1"/>
<text x="922" y="579" font-size="9.5" textLength="125" lengthAdjust="spacingAndGlyphs">Prob EF2+ Torn with supercell</text>
<text x="922" y="589" font-size="9.5" textLength="121" lengthAdjust="spacingAndGlyphs">Sounding CLIMO = .15 sigtor</text>
<line x1="918" y1="591" x2="1052" y2="591" stroke="#000"/>
<g font-size="7.5">
<text x="924" y="599">based on MLCAPE:</text><text x="924" y="608">based on MLLCL:</text>
<text x="924" y="618">based on ESRH:</text><text x="924" y="627">based on EBWD:</text>
<text x="924" y="639">based on STP_fixed:</text><text x="924" y="648">based on STP_effective:</text>
</g>
<g font-size="10">
<text x="1018" y="601" fill="#000">0.14</text><text x="1018" y="610" fill="#e07050">0.10</text>
<text x="1018" y="620" fill="#d4900a">0.06</text><text x="1018" y="629" fill="#000">0.19</text>
<text x="1018" y="641" fill="#000">0.17</text><text x="1018" y="650" fill="#d4900a">0.06</text>
</g>
<line x1="918" y1="630" x2="1052" y2="630" stroke="#000" stroke-dasharray="3,2"/>
</svg>
<script>
(function(){
var ns="http://www.w3.org/2000/svg";
var g=document.getElementById('bg');
if(!g)return;
function mk(t,a){var e=document.createElementNS(ns,t);for(var k in a)e.setAttribute(k,a[k]);g.appendChild(e);}
var f=[1.0140,0.9546,0.9030,0.8202,0.7087,0.6314,0.5176];
var s=[0,31.1,60.1,110.3,186.5,247.0,350.5];
var y=[537.6,491.9,449.9,377.1,266.6,178.9,29];
for(var th=225;th<=545;th+=20){var pts=[];for(var i=0;i<7;i++){var x=-1149.9+5.07*th*f[i]+s[i];pts.push(x.toFixed(1)+','+y[i]);}
mk('polyline',{points:pts.join(' '),fill:'none',stroke:'#ffe0c4','stroke-width':'1'});}
for(var T=-110;T<=50;T+=10){var x0=235+5.07*T;
mk('line',{x1:x0.toFixed(1),y1:537,x2:(x0+350.5).toFixed(1),y2:29,stroke:'#ffae62','stroke-width':'1','stroke-dasharray':'2,3'});}
})();
</script>
</body></html>
